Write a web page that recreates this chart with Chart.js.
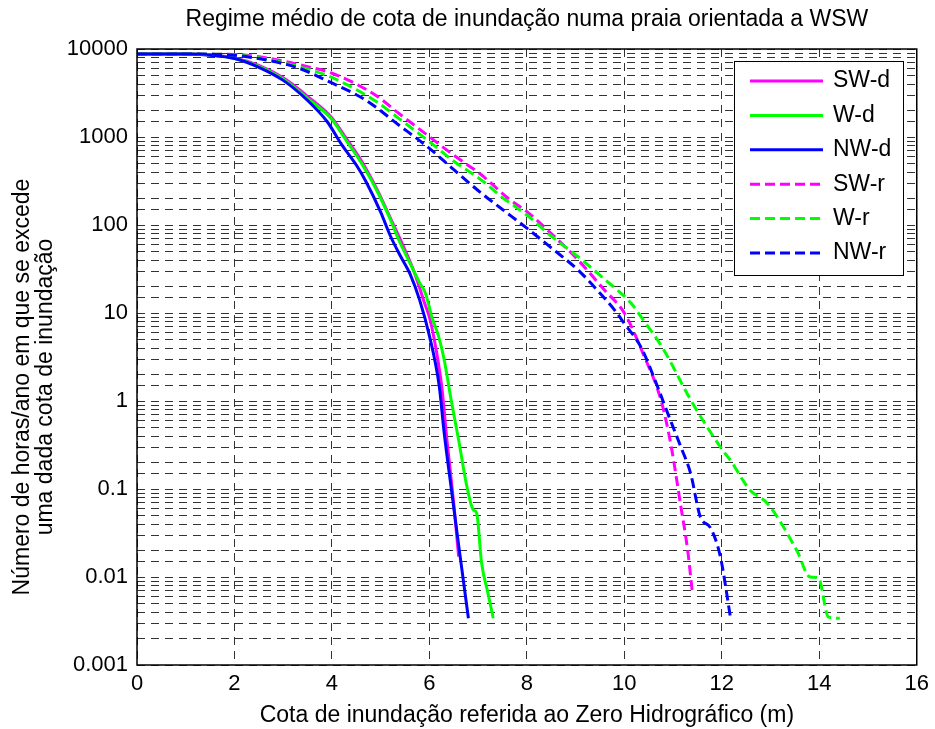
<!DOCTYPE html>
<html>
<head>
<meta charset="utf-8">
<script src="https://cdn.jsdelivr.net/npm/chart.js@4.4.1/dist/chart.umd.min.js"></script>
<style>html,body{margin:0;padding:0;background:#fff}canvas{display:block}</style>
</head>
<body>
<canvas id="c" width="935" height="729"></canvas>
<script>
// ---------- data ----------
const seriesLabels = ['SW-d', 'W-d', 'NW-d', 'SW-r', 'W-r', 'NW-r'];

const swdX = [0, 1.0, 1.5, 2.0, 2.5, 3.0, 3.5, 4.0, 4.3, 4.6, 4.9, 5.2, 5.5, 5.7, 5.9, 6.0, 6.1, 6.25, 6.36, 6.5, 6.6];
const swdY = [8760, 8760, 8600, 7900, 6500, 4700, 2900, 1650, 950, 540, 270, 120, 52, 28, 13, 9, 5, 1.5, 0.36, 0.068, 0.017];

const wdX = [0, 1.0, 1.5, 2.0, 2.5, 3.0, 3.5, 4.0, 4.3, 4.6, 4.9, 5.2, 5.37, 5.6, 5.8, 5.92, 6.05, 6.19, 6.3, 6.45, 6.6, 6.77, 6.9, 6.97, 7.07, 7.2, 7.31];
const wdY = [8760, 8760, 8550, 7850, 6350, 4550, 2750, 1580, 900, 510, 260, 115, 68, 37, 22, 16.7, 9, 5.4, 3, 1.0, 0.36, 0.106, 0.058, 0.053, 0.0145, 0.0066, 0.0034];

const nwdX = [0, 1.0, 1.5, 2.0, 2.5, 3.0, 3.5, 3.9, 4.2, 4.5, 4.7, 5.0, 5.2, 5.4, 5.6, 5.8, 6.0, 6.2, 6.3, 6.45, 6.6, 6.8];
const nwdY = [8760, 8760, 8500, 7800, 6200, 4400, 2600, 1500, 820, 480, 310, 140, 75, 45, 28, 14, 5.5, 1.5, 0.45, 0.1, 0.023, 0.0034];

const swrX = [0, 1.0, 1.5, 2.0, 2.5, 3.0, 3.5, 4.0, 4.89, 5.37, 6.0, 6.5, 7.07, 7.62, 8.0, 8.5, 9.05, 9.6, 10.0, 10.41, 10.75, 10.95, 11.16, 11.3, 11.39];
const swrY = [8760, 8760, 8740, 8680, 8150, 7300, 6300, 5300, 3000, 1860, 1007, 620, 370, 200, 142, 80, 40, 18, 10, 3.2, 1.03, 0.33, 0.063, 0.02, 0.0071];

const wrX = [0, 1.0, 1.5, 2.0, 2.5, 3.0, 3.5, 4.0, 4.9, 5.37, 6.0, 6.5, 7.07, 7.5, 8.0, 8.5, 9.05, 9.6, 10.14, 10.34, 10.81, 11.36, 11.97, 12.18, 12.58, 12.93, 13.54, 13.81, 13.98, 14.19, 14.42];
const wrY = [8760, 8760, 8730, 8600, 7950, 7000, 5900, 4750, 2550, 1630, 885, 530, 324, 205, 130, 75, 43.6, 24, 12.9, 9.1, 3.8, 1.03, 0.3, 0.21, 0.097, 0.069, 0.020, 0.010, 0.0098, 0.0035, 0.0034];

const nwrX = [0, 1.0, 1.5, 2.0, 2.65, 3.33, 3.94, 4.69, 5.37, 6.0, 6.5, 7.07, 7.5, 8.0, 8.5, 9.05, 9.45, 9.8, 10.0, 10.34, 10.68, 10.9, 11.16, 11.36, 11.56, 11.77, 11.97, 12.18];
const nwrY = [8760, 8760, 8700, 8500, 7500, 6030, 4250, 2630, 1370, 743, 425, 229, 150, 92, 55, 30.8, 18, 10.8, 7.6, 4.1, 1.46, 0.7, 0.3, 0.15, 0.048, 0.036, 0.017, 0.0034];

const xTickValues = [0, 2, 4, 6, 8, 10, 12, 14, 16];
const yTickLabels = ['0.001', '0.01', '0.1', '1', '10', '100', '1000', '10000'];

const chartTitle = 'Regime médio de cota de inundação numa praia orientada a WSW';
const xTitle = 'Cota de inundação referida ao Zero Hidrográfico (m)';
const yTitle = ['Número de horas/ano em que se excede', 'uma dada cota de inundação'];

// ---------- styling ----------
const FONT = '"Liberation Sans", Arial, Helvetica, sans-serif';
const colors = ['#ff00ff', '#00ff00', '#0000ff', '#ff00ff', '#00ff00', '#0000ff'];
const dashes = [[], [], [], [10, 5], [10, 5], [10, 5]];
const xs = [swdX, wdX, nwdX, swrX, wrX, nwrX];
const ys = [swdY, wdY, nwdY, swrY, wrY, nwrY];

const datasets = seriesLabels.map((lab, i) => ({
  label: lab,
  data: xs[i].map((x, k) => ({ x: x, y: ys[i][k] })),
  borderColor: colors[i],
  backgroundColor: colors[i],
  borderWidth: 3,
  borderDash: dashes[i],
  pointRadius: 0,
  fill: false,
  cubicInterpolationMode: 'monotone',
  order: seriesLabels.length - i
}));

const frameAndLegend = {
  id: 'frameAndLegend',
  afterDraw(chart) {
    const ctx = chart.ctx;
    const a = chart.chartArea;
    ctx.save();
    // axes box
    ctx.strokeStyle = '#000';
    ctx.lineWidth = 1.5;
    ctx.setLineDash([]);
    ctx.strokeRect(a.left, a.top, a.right - a.left, a.bottom - a.top);
    // y axis title (two lines, rotated)
    const cy = (a.top + a.bottom) / 2 + 30;
    ctx.save();
    ctx.translate(0, cy);
    ctx.rotate(-Math.PI / 2);
    ctx.font = '23px ' + FONT;
    ctx.fillStyle = '#000';
    ctx.textAlign = 'center';
    ctx.textBaseline = 'middle';
    yTitle.forEach((t, i) => ctx.fillText(t, 0, 22.5 + i * 23));
    ctx.restore();
    // legend
    const bx = Math.round(a.right - 182.5), by = a.top + 12, bw = 169, bh = 214;
    ctx.fillStyle = '#fff';
    ctx.fillRect(bx, by, bw, bh);
    ctx.lineWidth = 1;
    ctx.strokeStyle = '#000';
    ctx.strokeRect(bx + 0.5, by + 0.5, bw, bh);
    chart.data.datasets.forEach((ds, i) => {
      const y = by + 20 + i * 34.4;
      ctx.strokeStyle = ds.borderColor;
      ctx.lineWidth = ds.borderWidth;
      ctx.setLineDash(ds.borderDash || []);
      ctx.beginPath();
      ctx.moveTo(bx + 16, y);
      ctx.lineTo(bx + 89, y);
      ctx.stroke();
      ctx.setLineDash([]);
      ctx.fillStyle = '#000';
      ctx.font = '23px ' + FONT;
      ctx.textBaseline = 'middle';
      ctx.textAlign = 'left';
      ctx.fillText(ds.label, bx + 99, y);
    });
    ctx.restore();
  }
};

new Chart(document.getElementById('c'), {
  type: 'line',
  data: { datasets: datasets },
  options: {
    responsive: false,
    animation: false,
    devicePixelRatio: 1,
    layout: { padding: { top: 0, right: 14.5, bottom: 0, left: 0 } },
    plugins: {
      legend: { display: false },
      tooltip: { enabled: false },
      title: {
        display: true,
        fullSize: false,
        text: chartTitle,
        color: '#000',
        font: { family: FONT, size: 23, weight: 'normal', lineHeight: 1.2 },
        padding: { top: 6, bottom: 15.4 }
      }
    },
    scales: {
      x: {
        type: 'linear',
        min: xTickValues[0],
        max: xTickValues[xTickValues.length - 1],
        afterBuildTicks(scale) { scale.ticks = xTickValues.map(v => ({ value: v })); },
        ticks: {
          callback: v => String(v),
          padding: 6,
          color: '#000',
          maxRotation: 0,
          autoSkip: false,
          font: { family: FONT, size: 22, lineHeight: 1.2 }
        },
        grid: { color: 'rgba(0,0,0,0.8)', lineWidth: 1, drawTicks: false },
        border: { display: false, dash: [8, 6] },
        title: {
          display: true,
          text: xTitle,
          color: '#000',
          font: { family: FONT, size: 23, lineHeight: 1.2 },
          padding: { top: 0, bottom: 0 }
        },
        afterFit(scale) { scale.height = 64; }
      },
      y: {
        type: 'logarithmic',
        min: 0.001,
        max: 10000,
        ticks: {
          autoSkip: false,
          padding: 9,
          color: '#000',
          font: { family: FONT, size: 22 },
          callback: v => {
            const l = Math.log10(v);
            const r = Math.round(l);
            return Math.abs(l - r) < 1e-6 ? yTickLabels[r + 3] : '';
          }
        },
        grid: { color: 'rgba(0,0,0,0.8)', lineWidth: 1, drawTicks: false },
        border: { display: false, dash: [8, 6] },
        title: { display: false },
        afterFit(scale) { scale.width = 137; }
      }
    }
  },
  plugins: [frameAndLegend]
});
</script>
</body>
</html>
